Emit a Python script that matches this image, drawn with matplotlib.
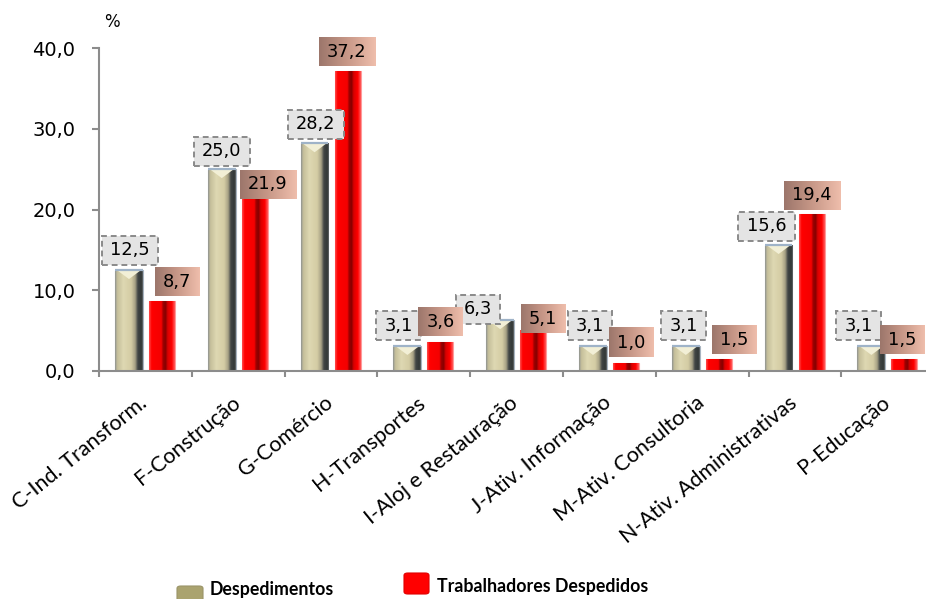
import numpy as np
import matplotlib
matplotlib.use("Agg")
import matplotlib.pyplot as plt
from matplotlib.colors import LinearSegmentedColormap
from matplotlib.patches import Rectangle, Polygon, FancyBboxPatch

# ---- data -------------------------------------------------------------
categories = ["C-Ind. Transform.", "F-Construção", "G-Comércio", "H-Transportes",
              "I-Aloj e Restauração", "J-Ativ. Informação", "M-Ativ. Consultoria",
              "N-Ativ. Administrativas", "P-Educação"]
despedimentos = [12.5, 25.0, 28.2, 3.1, 6.3, 3.1, 3.1, 15.6, 3.1]
trabalhadores = [8.7, 21.9, 37.2, 3.6, 5.1, 1.0, 1.5, 19.4, 1.5]
y_ticks = [0, 10, 20, 30, 40]
y_tick_labels = ["0,0", "10,0", "20,0", "30,0", "40,0"]
series_names = ["Despedimentos", "Trabalhadores Despedidos"]

# label placement (pixel offsets from the top centre of each bar)
gold_label_offsets = [(1, 22), (0, 20), (1, 21), (-9, 22), (-22, 13), (-3, 22), (-2, 22), (-12, 21), (-13, 22)]
red_label_offsets = [(15, 21), (13, 12), (-1, 21), (0, 22), (10, 13), (5, 22), (15, 21), (0, 21), (-2, 21)]

W, H = 926, 599
fig = plt.figure(figsize=(W / 100, H / 100), dpi=100)
fig.patch.set_facecolor("white")

cat_px = 92.8
ax = fig.add_axes([99 / W, 228 / H, 827 / W, 323 / H])
xlim = (-0.5, -0.5 + 827 / cat_px)
ylim = (0, 40)

x = np.arange(len(categories))
gold_cmap = LinearSegmentedColormap.from_list("gold", [
    (0.0, "#8e9290"), (0.08, "#c4be9a"), (0.3, "#ded8b2"), (0.58, "#d4cca4"),
    (0.72, "#a8a286"), (0.82, "#414645"), (0.95, "#323736"), (1.0, "#6c7072")])
red_cmap = LinearSegmentedColormap.from_list("redbar", [
    (0.0, "#ff5050"), (0.1, "#ff0000"), (0.48, "#f40000"), (0.54, "#a00000"),
    (0.64, "#850000"), (0.72, "#d80000"), (0.88, "#ff0000"), (1.0, "#ff6060")])
label_cmap = LinearSegmentedColormap.from_list("lbl", ["#9c766b", "#c89888", "#efbeac"])

grad = np.linspace(0, 1, 256).reshape(1, -1)

gold_bars = ax.bar(x - 0.177, despedimentos, width=0.30, color="#cfc7a0",
                   edgecolor="#a8b4c0", linewidth=0.8, zorder=2)
red_bars = ax.bar(x + 0.179, trabalhadores, width=0.28, color="#ff0000",
                  edgecolor="#ff9a9a", linewidth=0.8, zorder=2)

px_per_unit = 323 / 40.0
for bars, cmap in ((gold_bars, gold_cmap), (red_bars, red_cmap)):
    for p in bars:
        x0, w, h = p.get_x(), p.get_width(), p.get_height()
        im = ax.imshow(grad, cmap=cmap, extent=(x0, x0 + w, 0, h), aspect="auto",
                       interpolation="bilinear", zorder=2.1)
        im.set_clip_path(p)

# bevelled top on the grey-gold bars
for p in gold_bars:
    x0, w, h = p.get_x(), p.get_width(), p.get_height()
    cap = 9 / px_per_unit
    ax.add_patch(Polygon([(x0 + 0.02, h), (x0 + w - 0.02, h), (x0 + w / 2, h - cap)],
                         closed=True, fc="#f2efd6", ec="none", zorder=2.3))
    ax.plot([x0, x0 + w], [h, h], color="#9fb3c8", lw=1.6, zorder=2.4,
            solid_capstyle="butt")

ax.set_xlim(*xlim)
ax.set_ylim(*ylim)
ax.set_autoscale_on(False)

# axes styling
for s in ("top", "right"):
    ax.spines[s].set_visible(False)
for s in ("left", "bottom"):
    ax.spines[s].set_color("#8c8c8c")
    ax.spines[s].set_linewidth(1.5)
    ax.spines[s].set_zorder(3)
ax.set_yticks(y_ticks)
ax.set_yticklabels(y_tick_labels, fontsize=14, family="DejaVu Sans")
ax.set_xticks(np.arange(len(categories) + 1) - 0.5)
ax.set_xticklabels([])
ax.tick_params(axis="y", direction="out", length=5, width=1.5, color="#8c8c8c", pad=12)
ax.tick_params(axis="x", direction="out", length=4.5, width=1.5, color="#8c8c8c")
ax.set_facecolor("none")

# category labels
for i, name in enumerate(categories):
    ax.annotate(name, xy=(i, 0), xycoords=("data", "axes fraction"),
                xytext=(3, -34), textcoords="offset pixels",
                ha="right", va="baseline", rotation=39, rotation_mode="anchor",
                fontsize=15.5, family="Lato", color="black", annotation_clip=False)

# value labels
texts = []
for bars, vals, offs, kind in ((gold_bars, despedimentos, gold_label_offsets, "gold"),
                               (red_bars, trabalhadores, red_label_offsets, "red")):
    for p, v, (dx, dy) in zip(bars, vals, offs):
        xc = p.get_x() + p.get_width() / 2
        t = ax.annotate(f"{v:.1f}".replace(".", ","), xy=(xc, v),
                        xytext=(dx, dy), textcoords="offset pixels",
                        ha="center", va="center_baseline", fontsize=12.8,
                        family="DejaVu Sans", color="black", zorder=7,
                        annotation_clip=False)
        texts.append((t, kind))

fig.canvas.draw()
renderer = fig.canvas.get_renderer()
inv = ax.transData.inverted()
for t, kind in texts:
    bb = t.get_window_extent(renderer)
    cy = (bb.y0 + bb.y1) / 2
    half_w = bb.width / 2 + 8
    xc = (bb.x0 + bb.x1) / 2
    (dx0, dy0) = inv.transform((xc - half_w, cy - 14.5))
    (dx1, dy1) = inv.transform((xc + half_w, cy + 14.5))
    if kind == "gold":
        r = Rectangle((dx0, dy0), dx1 - dx0, dy1 - dy0, fc="#e4e4e4", ec="#8a8a8a",
                      lw=1.4, ls=(0, (3, 2)), zorder=5, clip_on=False)
        ax.add_patch(r)
    else:
        im = ax.imshow(grad, cmap=label_cmap, extent=(dx0, dx1, dy0, dy1), aspect="auto",
                       interpolation="bilinear", zorder=6)
        im.set_clip_on(False)

ax.set_xlim(*xlim)
ax.set_ylim(*ylim)

# unit marker
fig.text(112 / W, 1 - 22 / H, "%", ha="center", va="center", fontsize=12,
         family="DejaVu Sans")

# legend
fig.patches.append(FancyBboxPatch((177 / W, -6 / H), 26 / W, 19 / H,
                                  boxstyle="round,pad=0,rounding_size=0.004",
                                  transform=fig.transFigure, fc="#aaa36f", ec="#9a9468", lw=0.8))
fig.text(210 / W, 4 / H, series_names[0], ha="left", va="baseline", fontsize=12.8,
         family="Lato", weight="bold")
fig.patches.append(FancyBboxPatch((404 / W, 5 / H), 25 / W, 21 / H,
                                  boxstyle="round,pad=0,rounding_size=0.004",
                                  transform=fig.transFigure, fc="#ff0000", ec="#e00000", lw=0.8))
fig.text(437 / W, 7 / H, series_names[1], ha="left", va="baseline", fontsize=12.8,
         family="Lato", weight="bold")

fig.savefig("out.png", dpi=100)
